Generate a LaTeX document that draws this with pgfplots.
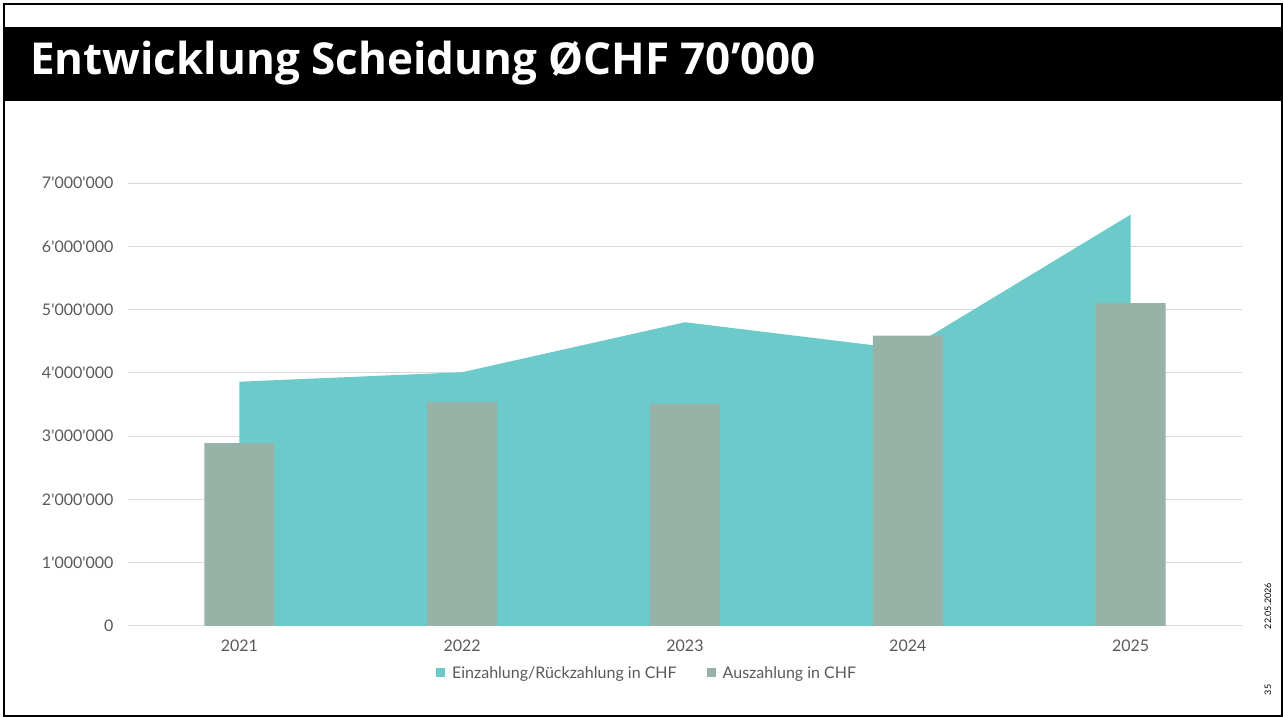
\documentclass[border=0pt]{standalone}
\usepackage{fontspec}
\setmainfont{Lato}
\newfontfamily\tickfont{Lato}[Ligatures=TeXOff]
\newfontfamily\titlefont{Open Sans}
\usepackage{pgfplots}
\pgfplotsset{compat=1.18}
\definecolor{areacol}{HTML}{6CCBCA}
\definecolor{barcol}{HTML}{97B2A6}
\definecolor{gridcol}{HTML}{D9D9D9}
\definecolor{labcol}{HTML}{595959}
\begin{document}
\begin{tikzpicture}
\useasboundingbox (0pt,0pt) rectangle (1283pt,717pt);
\fill[black] (4pt,616pt) rectangle (1283pt,690pt);
\node[anchor=base west, text=white, font=\titlefont\fontsize{44}{50}\selectfont\bfseries, inner sep=0pt] at (30pt,642pt) {Entwicklung Scheidung ØCHF 70’000};
\begin{axis}[
  at={(128pt,91pt)}, anchor=south west,
  scale only axis, width=1114pt, height=443pt,
  xmin=-0.5, xmax=4.5, ymin=0, ymax=7000000,
  scaled y ticks=false,
  axis line style={draw=none},
  major tick length=0pt,
  ymajorgrids, grid style={gridcol, line width=1pt},
  xtick={0,1,2,3,4},
  xticklabels={2021,2022,2023,2024,2025},
  ytick={0,1000000,2000000,3000000,4000000,5000000,6000000,7000000},
  yticklabels={0,1'000'000,2'000'000,3'000'000,4'000'000,5'000'000,6'000'000,7'000'000},
  ticklabel style={font=\tickfont\fontsize{16}{19}\selectfont, text=labcol},
  yticklabel style={xshift=-11pt},
  xticklabel style={yshift=-10pt},
  legend style={at={(0.466,-0.106)}, anchor=center, legend columns=2, draw=none, fill=none,
    font=\tickfont\fontsize{16}{19}\selectfont, text=labcol,
    /tikz/every even column/.append style={column sep=28pt}},
]
\addplot[fill=areacol, draw=none,
  legend image code/.code={\fill[areacol] (0pt,-4.5pt) rectangle (9pt,4.5pt); \path (0pt,0pt) -- (14pt,0pt);}]
  coordinates {(0,3860000) (1,4010000) (2,4800000) (3,4370000) (4,6500000)} \closedcycle;
\addlegendentry{Einzahlung/Rückzahlung in CHF}
\addplot[ybar, bar width=70pt, bar shift=0pt, fill=barcol, draw=none,
  legend image code/.code={\fill[barcol] (0pt,-4.5pt) rectangle (9pt,4.5pt); \path (0pt,0pt) -- (14pt,0pt);}]
  coordinates {(0,2890000) (1,3540000) (2,3510000) (3,4590000) (4,5100000)};
\addlegendentry{Auszahlung in CHF}
\end{axis}
\node[rotate=90, font=\fontsize{9}{11}\selectfont, inner sep=0pt] at (1268pt,111pt) {22.05.2026};
\node[rotate=90, font=\fontsize{9}{11}\selectfont, inner sep=0pt] at (1268pt,27pt) {35};
\draw[line width=2pt] (4pt,1pt) rectangle (1282pt,713pt);
\end{tikzpicture}
\end{document}
